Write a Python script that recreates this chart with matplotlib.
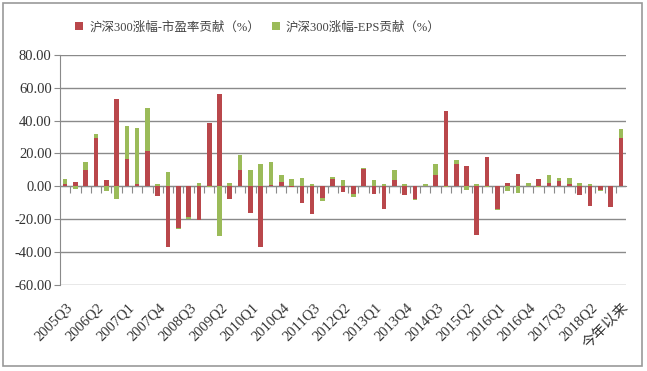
import numpy as np
import matplotlib.pyplot as plt
from matplotlib.patches import Rectangle
import matplotlib.transforms as mtransforms

# quarters shown in the chart (last bar is year-to-date)
quarters = [
    "2005Q3", "2005Q4", "2006Q1", "2006Q2", "2006Q3", "2006Q4",
    "2007Q1", "2007Q2", "2007Q3", "2007Q4", "2008Q1", "2008Q2",
    "2008Q3", "2008Q4", "2009Q1", "2009Q2", "2009Q3", "2009Q4",
    "2010Q1", "2010Q2", "2010Q3", "2010Q4", "2011Q1", "2011Q2",
    "2011Q3", "2011Q4", "2012Q1", "2012Q2", "2012Q3", "2012Q4",
    "2013Q1", "2013Q2", "2013Q3", "2013Q4", "2014Q1", "2014Q2",
    "2014Q3", "2014Q4", "2015Q1", "2015Q2", "2015Q3", "2015Q4",
    "2016Q1", "2016Q2", "2016Q3", "2016Q4", "2017Q1", "2017Q2",
    "2017Q3", "2017Q4", "2018Q1", "2018Q2", "2018Q3", "2018Q4",
    "今年以来",
]

# contribution of P/E change (%)
pe_contrib = [
    1.2, 2.5, 9.7, 29.2, 3.6, 52.9, 16.5, 1.2, 21.5, -5.7,
    -37.3, -25.5, -18.5, -20.3, 38.3, 56.5, -7.7, 10.1, -16.2, -36.9,
    1.0, 2.5, -0.5, -10.1, -16.8, -6.9, 4.5, -3.4, -4.5, 10.3,
    -4.5, -13.8, 3.6, -5.3, -7.5, 0.3, 6.9, 45.8, 13.8, 12.6,
    -29.6, 17.6, -13.8, 2.0, 7.3, 0.3, 4.5, 1.8, 3.2, 1.2,
    -5.3, -12.0, -2.3, -12.6, 29.6,
]

# contribution of EPS change (%)
eps_contrib = [
    3.0, -1.5, 4.9, 2.4, -2.8, -7.7, 20.0, 34.5, 26.5, 1.2,
    8.5, -0.5, -1.5, 1.8, -0.5, -30.2, 2.0, 8.7, 9.7, 13.8,
    13.6, 4.3, 4.5, 4.9, 1.6, -2.0, 1.0, 3.6, -2.0, 1.0,
    3.6, 1.6, 6.1, 1.6, -1.0, 1.3, 6.5, -0.5, 2.0, -2.4,
    1.2, -0.5, -0.8, -2.8, -4.0, 1.5, -0.5, 5.0, 1.7, 3.7,
    2.2, 1.6, -0.5, -0.3, 5.1,
]

red = "#B9474B"
green = "#9BBB59"
grid_col = "#8a8a8a"
fonts = ["Liberation Serif", "Noto Sans CJK SC"]
plt.rcParams["font.family"] = fonts

fig = plt.figure(figsize=(6.47, 3.71), dpi=100)
ax = fig.add_axes([60 / 647, 1 - 284.7 / 371, 566 / 647, 229.7 / 371])

x = np.arange(len(quarters))
pe = np.array(pe_contrib)
eps = np.array(eps_contrib)
# excel-style stacking: same-sign segments stack, opposite sign starts at 0
eps_bottom = np.where(np.sign(pe) == np.sign(eps), pe, 0)

w = 0.45
ax.bar(x, pe, width=w, color=red, zorder=3, label="沪深300涨幅-市盈率贡献（%）")
ax.bar(x, eps, width=w, bottom=eps_bottom, color=green, zorder=3,
       label="沪深300涨幅-EPS贡献（%）")

ax.set_xlim(-0.5, len(quarters) - 0.5)
ax.set_ylim(-60, 80)
ax.set_yticks(np.arange(-60, 81, 20))
ax.set_yticklabels([f"{v:.2f}" for v in np.arange(-60, 81, 20)], fontsize=10.5, color="#333333")
ax.yaxis.grid(True, color=grid_col, linewidth=1.0, zorder=0)

for s in ["top", "right"]:
    ax.spines[s].set_visible(False)
ax.spines["left"].set_color(grid_col)
ax.spines["bottom"].set_position(("data", 0))
ax.spines["bottom"].set_color(grid_col)
ax.tick_params(axis="y", length=4, color=grid_col, pad=2)

ax.set_xticks(x[:-1] + 0.5)
ax.set_xticklabels([])
ax.tick_params(axis="x", length=5, color=grid_col, direction="out")

# category labels below the plot, every third quarter
trans = mtransforms.blended_transform_factory(ax.transData, ax.transAxes)
off = mtransforms.ScaledTranslation(0, -16 / 100, fig.dpi_scale_trans)
for i in range(0, len(quarters), 3):
    ax.text(i + 0.1, 0, quarters[i], transform=trans + off, rotation=45,
            rotation_mode="anchor", ha="right", va="top", fontsize=10.5,
            color="#333333", family=fonts)

fig.legend(loc="center", bbox_to_anchor=(258 / 647, 1 - 27 / 371), ncol=2, frameon=False,
           fontsize=9, handlelength=0.65, handleheight=0.65, columnspacing=0.9,
           handletextpad=0.5, labelcolor="#444444")

fig.patches.append(Rectangle((3 / 647, 5 / 371), 639 / 647, 363 / 371, transform=fig.transFigure,
                             fill=False, edgecolor="#999999", linewidth=1.2))

fig.savefig("out.png", dpi=100)
